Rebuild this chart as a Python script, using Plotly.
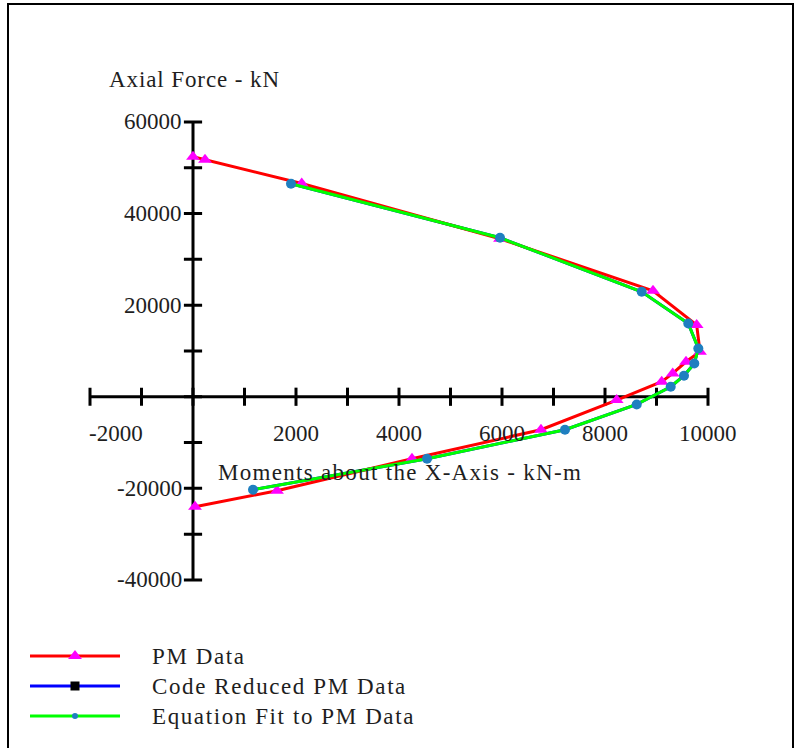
import plotly.graph_objects as go

# Interaction diagram: moment (kN-m) vs axial force (kN)
pm_moment = [0, 233, 2111, 5961, 8932, 9780, 9845, 9573, 9315, 9101, 8227, 6757, 4252, 1631, 39]
pm_axial = [52400, 51750, 46570, 34500, 23140, 15650, 9830, 7640, 5090, 3280, -720, -7200, -13540, -20520, -24000]

fit_moment = [1903, 5961, 8713, 9617, 9812, 9734, 9534, 9276, 8616, 7223, 4544, 1165]
fit_axial = [46500, 34720, 22930, 16000, 10550, 7270, 4590, 2180, -1680, -7200, -13540, -20310]

# Code-reduced curve coincides with the fitted curve
code_moment = list(fit_moment)
code_axial = list(fit_axial)

x_ticks = list(range(-2000, 10001, 1000))
y_ticks = list(range(-40000, 60001, 10000))
x_label_vals = [-2000, 2000, 4000, 6000, 8000, 10000]
y_label_vals = [60000, 40000, 20000, -20000, -40000]

series_names = ["PM Data", "Code Reduced PM Data", "Equation Fit to PM Data"]

W, H = 801, 748
FONT = "Liberation Serif"
TXT = "#1e1e1e"


def spaced(s, px=1.3):
    return f'<span style="letter-spacing:{px}px">{s}</span>'


fig = go.Figure()

# Axis lines crossing at the origin
fig.add_trace(go.Scatter(x=[x_ticks[0], x_ticks[-1]], y=[0, 0], mode="lines",
                         line=dict(color="black", width=3), hoverinfo="skip", showlegend=False))
fig.add_trace(go.Scatter(x=[0, 0], y=[y_ticks[0], y_ticks[-1]], mode="lines",
                         line=dict(color="black", width=3), hoverinfo="skip", showlegend=False))
fig.add_trace(go.Scatter(x=x_ticks, y=[0] * len(x_ticks), mode="markers",
                         marker=dict(symbol="line-ns", size=13, line=dict(color="black", width=3)),
                         hoverinfo="skip", showlegend=False))
fig.add_trace(go.Scatter(x=[0] * len(y_ticks), y=y_ticks, mode="markers",
                         marker=dict(symbol="line-ew", size=13, line=dict(color="black", width=3)),
                         hoverinfo="skip", showlegend=False))

# Data series
fig.add_trace(go.Scatter(x=code_moment, y=code_axial, mode="lines+markers", name=series_names[1],
                         line=dict(color="#0000ff", width=3),
                         marker=dict(symbol="square", size=5, color="black"), showlegend=False))
fig.add_trace(go.Scatter(x=pm_moment, y=pm_axial, mode="lines+markers", name=series_names[0],
                         line=dict(color="#ff0000", width=3),
                         marker=dict(symbol="triangle-up", size=12, color="#ff00ff"), showlegend=False))
fig.add_trace(go.Scatter(x=fit_moment, y=fit_axial, mode="lines+markers", name=series_names[2],
                         line=dict(color="#00ff00", width=3),
                         marker=dict(symbol="circle", size=10, color="#1f7fc0"), showlegend=False))

# Tick labels
for v in x_label_vals:
    fig.add_annotation(x=v, y=0, xref="x", yref="y", text=str(v), showarrow=False,
                       xanchor="left" if v == x_label_vals[0] else "center", yanchor="middle",
                       xshift=-3 if v == x_label_vals[0] else 0, yshift=-37,
                       font=dict(family=FONT, size=23, color=TXT))
for v in y_label_vals:
    fig.add_annotation(x=0, y=v, xref="x", yref="y", text=str(v), showarrow=False,
                       xanchor="right", yanchor="middle", xshift=-9,
                       font=dict(family=FONT, size=23, color=TXT))

# Axis titles
fig.add_annotation(x=107 / W, y=1 - 80 / H, xref="paper", yref="paper", text=spaced("Axial Force - kN", 0.9),
                   showarrow=False, xanchor="left", yanchor="middle",
                   font=dict(family=FONT, size=23, color=TXT))
fig.add_annotation(x=400 / W, y=1 - 472 / H, xref="paper", yref="paper",
                   text=spaced("Moments about the X-Axis - kN-m"), showarrow=False,
                   xanchor="center", yanchor="middle", font=dict(family=FONT, size=23, color=TXT))

# Key drawn on a pixel-unit axis spanning the whole page
key_x0, key_x1, key_y0, key_dy, key_text_x = 30, 120, 656, 30, 150
key_styles = [
    dict(line="#ff0000", sym="triangle-up", msize=12, mcolor="#ff00ff"),
    dict(line="#0000ff", sym="square", msize=9, mcolor="black"),
    dict(line="#00ff00", sym="circle", msize=6, mcolor="#1f7fc0"),
]
for i, (name, st) in enumerate(zip(series_names, key_styles)):
    yy = key_y0 + i * key_dy
    mid = (key_x0 + key_x1) / 2
    fig.add_trace(go.Scatter(x=[key_x0, key_x1], y=[yy, yy], mode="lines", xaxis="x2", yaxis="y2",
                             line=dict(color=st["line"], width=3), hoverinfo="skip", showlegend=False))
    fig.add_trace(go.Scatter(x=[mid], y=[yy], mode="markers", xaxis="x2", yaxis="y2",
                             marker=dict(symbol=st["sym"], size=st["msize"], color=st["mcolor"]),
                             hoverinfo="skip", showlegend=False))
    fig.add_annotation(x=key_text_x, y=yy, xref="x2", yref="y2", text=spaced(name, 1.6), showarrow=False,
                       xanchor="left", yanchor="middle", font=dict(family=FONT, size=23, color=TXT))

# Outer frame
fig.add_shape(type="rect", xref="paper", yref="paper", x0=8 / W, x1=793 / W, y0=-0.02, y1=1 - 4 / H,
              line=dict(color="black", width=2), fillcolor="rgba(0,0,0,0)", layer="below")

x_dom = [79.7 / W, (79.7 + 638.6) / W]
y_dom = [(H - 589.1) / H, (H - 112.8) / H]

fig.update_layout(
    width=W, height=H,
    margin=dict(l=0, r=0, t=0, b=0),
    paper_bgcolor="white", plot_bgcolor="rgba(0,0,0,0)",
    showlegend=False,
    xaxis=dict(domain=x_dom, range=[-2200, 10200], visible=False, fixedrange=True),
    yaxis=dict(domain=y_dom, range=[-42000, 62000], visible=False, fixedrange=True),
    xaxis2=dict(domain=[0, 1], range=[0, W], visible=False, anchor="y2", fixedrange=True),
    yaxis2=dict(domain=[0, 1], range=[H, 0], visible=False, anchor="x2", fixedrange=True),
)

fig.write_html("out.html", config={"displayModeBar": False})
